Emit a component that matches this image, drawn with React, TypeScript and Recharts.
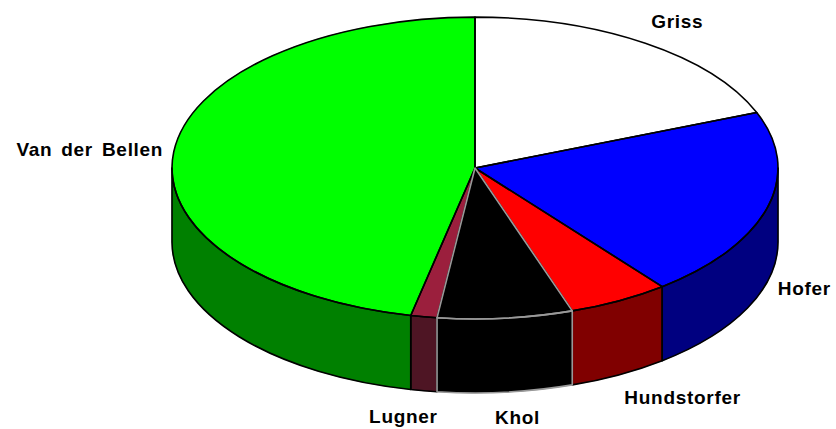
import React from 'react';
import { PieChart, Pie } from 'recharts';

const names = ['Griss', 'Hofer', 'Hundstorfer', 'Khol', 'Lugner', 'Van der Bellen'];
const values = [19.0, 20.4, 5.4, 7.2, 1.4, 46.6];
const topColors = ['#FFFFFF', '#0000FF', '#FF0000', '#000000', '#9B1F3D', '#00FF00'];
const sideColors = ['#C0C0C0', '#000080', '#800000', '#000000', '#4E1524', '#008000'];
const strokeColors = ['#000000', '#000000', '#000000', '#999999', '#000000', '#000000'];

const data = names.map((name, i) => ({ name, value: values[i] }));

const K = 0.498;
const DEPTH = 74;
const RAD = Math.PI / 180;

function pt(cx: number, cy: number, r: number, a: number): [number, number] {
  return [cx + r * Math.cos(a * RAD), cy - r * K * Math.sin(a * RAD)];
}

function topPath(cx: number, cy: number, r: number, s: number, e: number) {
  const [x1, y1] = pt(cx, cy, r, s);
  const [x2, y2] = pt(cx, cy, r, e);
  const large = Math.abs(s - e) > 180 ? 1 : 0;
  const sweep = s > e ? 1 : 0;
  return `M${cx},${cy}L${x1},${y1}A${r},${r * K} 0 ${large} ${sweep} ${x2},${y2}Z`;
}

function wallPath(cx: number, cy: number, r: number, s: number, e: number) {
  const hi = Math.min(Math.max(s, e), 0);
  const lo = Math.max(Math.min(s, e), -180);
  if (hi <= lo) return null;
  const [x1, y1] = pt(cx, cy, r, hi);
  const [x2, y2] = pt(cx, cy, r, lo);
  const ry = r * K;
  return `M${x1},${y1}A${r},${ry} 0 0 1 ${x2},${y2}L${x2},${y2 + DEPTH}A${r},${ry} 0 0 0 ${x1},${y1 + DEPTH}Z`;
}

const renderFill = (p: any) => {
  const { cx, cy, outerRadius, startAngle, endAngle, index } = p;
  const w = wallPath(cx, cy, outerRadius, startAngle, endAngle);
  return (
    <g>
      {w && <path d={w} fill={sideColors[index]} stroke={sideColors[index]} strokeWidth={0.5} />}
      <path d={topPath(cx, cy, outerRadius, startAngle, endAngle)} fill={topColors[index]} stroke={topColors[index]} strokeWidth={0.5} />
    </g>
  );
};

const outline = (p: any) => {
  const { cx, cy, outerRadius, startAngle, endAngle, index } = p;
  const w = wallPath(cx, cy, outerRadius, startAngle, endAngle);
  return (
    <g>
      {w && <path d={w} fill="none" stroke={strokeColors[index]} strokeWidth={1.6} strokeLinejoin="round" />}
      <path d={topPath(cx, cy, outerRadius, startAngle, endAngle)} fill="none" stroke={strokeColors[index]} strokeWidth={1.6} strokeLinejoin="round" />
    </g>
  );
};

const renderBlackOutlines = (p: any) => (strokeColors[p.index] === '#000000' ? outline(p) : <g />);

const renderOtherOutlinesAndText = (p: any) => {
  const { cx, cy, outerRadius, startAngle, endAngle, index } = p;
  const mid = (startAngle + endAngle) / 2;
  const c = Math.cos(mid * RAD);
  const s = Math.sin(mid * RAD);
  let anchor: 'start' | 'end' | 'middle';
  let lx: number;
  if (Math.abs(c) < 0.3) {
    anchor = 'middle';
    lx = cx + outerRadius * c * 1.4;
  } else {
    anchor = c > 0 ? 'start' : 'end';
    lx = cx + outerRadius * c * 1.035;
  }
  const ly = cy - outerRadius * K * s * 1.17 + (s < 0 ? DEPTH : 0);
  return (
    <g>
      {strokeColors[index] !== '#000000' && outline(p)}
      <text
        x={lx}
        y={ly}
        textAnchor={anchor}
        dominantBaseline="central"
        fontFamily="'Liberation Sans', Arial, sans-serif"
        fontWeight="bold"
        fontSize={19}
        letterSpacing={0.7}
        wordSpacing={3}
        fill="#000000"
      >
        {names[index]}
      </text>
    </g>
  );
};

export default function App() {
  const common = {
    data,
    dataKey: 'value',
    nameKey: 'name',
    cx: 475,
    cy: 168,
    outerRadius: 303,
    startAngle: 90,
    endAngle: -270,
    isAnimationActive: false,
    fill: 'none',
    stroke: 'none',
    labelLine: false,
  };
  return (
    <div style={{ position: 'absolute', left: 0, top: 0, width: 836, height: 429, background: '#fff' }}>
      <PieChart width={836} height={429} margin={{ top: 0, right: 0, bottom: 0, left: 0 }}>
        <Pie {...common} label={renderFill} />
        <Pie {...common} label={renderBlackOutlines} />
        <Pie {...common} label={renderOtherOutlinesAndText} />
      </PieChart>
    </div>
  );
}
